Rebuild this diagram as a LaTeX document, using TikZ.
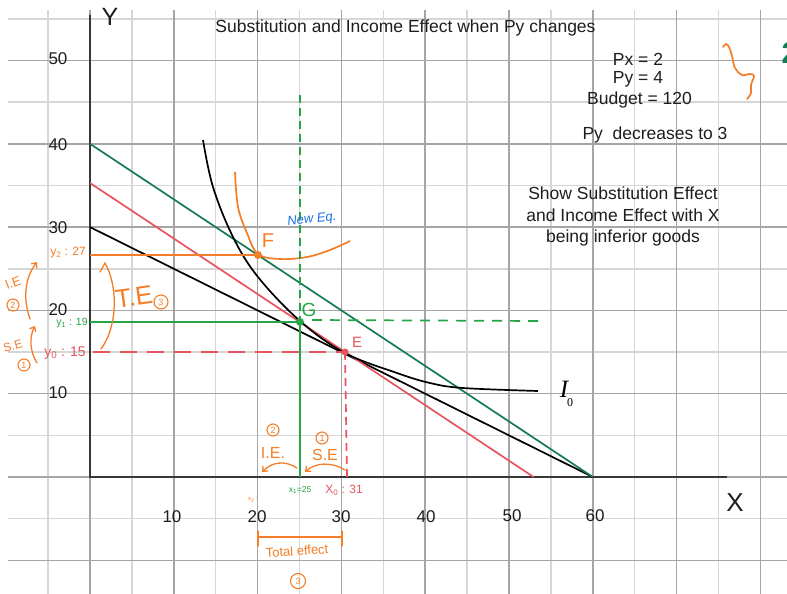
\documentclass[tikz,border=0pt]{standalone}
\usepackage{fontspec}
\setmainfont{Liberation Sans}
\newfontfamily\tnrfont{Liberation Serif}
\usetikzlibrary{arrows.meta}
\definecolor{gridmaj}{RGB}{165,165,165}
\definecolor{gridmin}{RGB}{214,214,214}
\definecolor{bgreen}{RGB}{22,122,84}
\definecolor{lgreen}{RGB}{38,165,70}
\definecolor{cred}{RGB}{232,84,94}
\definecolor{corange}{RGB}{245,125,40}
\definecolor{cblue}{RGB}{30,110,230}
\definecolor{axisc}{RGB}{55,55,55}
\definecolor{textc}{RGB}{30,30,30}
\begin{document}
\begin{tikzpicture}[x=1pt,y=-1pt,
  fs/.style={font=\fontsize{#1}{#1}\selectfont},
  gridminor/.style={draw=gridmin, line width=1.5pt},
  gridmajor/.style={draw=gridmaj, line width=1.5pt},
  axisline/.style={draw=axisc, line width=2.6pt},
  curveline/.style={line width=1.7pt},
  hand/.style={draw=corange, line width=1.3pt, line cap=round},
  harrow/.style={hand, -{Straight Barb[length=4pt,width=7pt]}},
  circnum/.style={draw=corange, circle, inner sep=0pt, minimum size=#1, text=corange, font=\fontsize{9}{9}\selectfont, line width=1.1pt},
  circnum/.default=12pt,
  txt/.style={fs=17.5, text=textc, inner sep=0pt},
  ticklbl/.style={fs=17, text=textc, inner sep=0pt},
]
\useasboundingbox (0,0) rectangle (787,594);
\fill[white] (0,0) rectangle (787,594);
\clip (0,0) rectangle (787,594);

% grid
\foreach \k in {-1,1,...,15} \draw[gridminor] ({90+41.9*\k},10) -- ({90+41.9*\k},594);
\foreach \j in {-1,1,...,11} \draw[gridminor] (8,{477-41.65*\j}) -- (787,{477-41.65*\j});
\foreach \k in {0,2,...,16} \draw[gridmajor] ({90+41.9*\k},10) -- ({90+41.9*\k},594);
\foreach \j in {-2,0,...,10} \draw[gridmajor] (8,{477-41.65*\j}) -- (787,{477-41.65*\j});

% axes
\coordinate (O) at (90,477);
\coordinate (ytop) at (90,15);
\coordinate (xend) at (727,477);
\draw[axisline] (ytop) -- (O) -- (xend);

% tick labels
\node[ticklbl] (t50) at (58,59) {50};
\node[ticklbl] (t40) at (58,145) {40};
\node[ticklbl] (t30) at (58,228) {30};
\node[ticklbl] (t20) at (58,310) {20};
\node[ticklbl] (t10) at (58,393) {10};
\node[ticklbl] (x10) at (172,517) {10};
\node[ticklbl] (x20) at (257,517) {20};
\node[ticklbl] (x30) at (341,517) {30};
\node[ticklbl] (x40) at (426,517) {40};
\node[ticklbl] (x50) at (512,516) {50};
\node[ticklbl] (x60) at (595,516) {60};
\node[fs=25, text=textc, inner sep=0pt] (ylab) at (110,17) {Y};
\node[fs=26, text=textc, inner sep=0pt] (xlab) at (735,503) {X};

% texts
\node[txt] (title) at (405.5,28) {Substitution and Income Effect when Py changes};
\node[txt] (px) at (638,59) {Px = 2};
\node[txt] (py) at (638,79) {Py = 4};
\node[txt] (bud) at (639.5,100) {Budget = 120};
\node[txt] (pyd) at (655,135) {Py\ \ decreases to 3};
\node[txt, align=center, font=\fontsize{17.5}{21.5}\selectfont] (show) at (623,216.5)
  {Show Substitution Effect\\and Income Effect with X\\being inferior goods};

% key points
\coordinate (F) at (258,255);
\coordinate (G) at (300,322);
\coordinate (E) at (345,352);

% budget lines
\coordinate (g0) at (90,143.8);
\coordinate (g1) at (592.8,477);
\coordinate (b0) at (90,227.1);
\coordinate (r0) at (90,183);
\coordinate (r1) at (533.6,477);
\draw[curveline, black] (b0) -- (g1);
\draw[curveline, cred] (r0) -- (r1);
\draw[curveline, bgreen] (g0) -- (g1);

% indifference curve I0
\draw[curveline, black] plot[smooth, tension=0.6] coordinates
  {(203,140) (213,187) (233,237) (258,277) (300,321) (345,353) (397,373) (430,383) (463,388) (538,391)};
\node[inner sep=0pt, font=\tnrfont\itshape\fontsize{25}{25}\selectfont] (ilab) at (564,389) {I};
\node[inner sep=0pt, font=\tnrfont\fontsize{12}{12}\selectfont] (isub) at (570,403) {0};

% orange indifference curve
\draw[curveline, corange] plot[smooth, tension=0.6] coordinates
  {(235,172) (238,207) (247,233) (258,254) (280,259) (307,257) (330,250) (350,241)};

% construction lines
\coordinate (yF) at (90,255);
\coordinate (yG) at (90,322);
\coordinate (yE) at (93,352);
\coordinate (xG) at (300,477);
\coordinate (xE) at (347,477);
\coordinate (gtop) at (300,95);
\coordinate (gright) at (538,321);
\draw[curveline, corange] (yF) -- (F);
\draw[curveline, lgreen] (yG) -- (G) -- (xG);
\draw[curveline, lgreen, dash pattern=on 8pt off 5pt] (gtop) -- (G);
\draw[curveline, lgreen, dash pattern=on 10pt off 8pt] (312,320) -- (gright);
\draw[curveline, cred, dash pattern=on 17pt off 10pt] (yE) -- (E);
\draw[curveline, cred, dash pattern=on 8pt off 5pt] (E) -- (xE);

% dots
\fill[corange] (F) circle (4pt);
\fill[lgreen] (G) circle (4pt);
\fill[cred] (E) circle (3.5pt);

% point labels
\node[fs=20, text=corange, inner sep=0pt] (Flab) at (268,241) {F};
\node[fs=19, text=lgreen, inner sep=0pt] (Glab) at (309,310) {G};
\node[fs=15, text=cred, inner sep=0pt] (Elab) at (357,342) {E};
\node[text=cblue, inner sep=0pt, rotate=6, font=\itshape\fontsize{13}{13}\selectfont] (neweq) at (312,220) {New Eq.};

% left annotations
\node[fs=12, text=corange, inner sep=0pt] (y2) at (68,253) {y\textsubscript{2} : 27};
\node[fs=10.5, text=lgreen, inner sep=0pt] (y1) at (72,323) {y\textsubscript{1} : 19};
\node[fs=14, text=cred, inner sep=0pt] (y0) at (65,353) {y\textsubscript{0} : 15};
\node[fs=13, text=corange, inner sep=0pt, rotate=20] (ieL) at (13,283) {I.E};
\node[circnum] (c2L) at (13,305) {2};
\node[fs=12, text=corange, inner sep=0pt, rotate=15] (seL) at (13,346) {S.E};
\node[circnum] (c1L) at (24,365) {1};
\coordinate (ieA0) at (30,319);
\coordinate (ieA1) at (37,262);
\draw[harrow] (ieA0) .. controls (22,297) and (26,276) .. (ieA1);
\coordinate (seA0) at (37,363);
\coordinate (seA1) at (35,326);
\draw[harrow] (seA0) .. controls (30,352) and (29,337) .. (seA1);
\coordinate (teA0) at (101,349);
\coordinate (teA1) at (105,263);
\draw[hand] (teA0) .. controls (118,326) and (118,286) .. (teA1) -- (100,272);
\node[fs=26, text=corange, inner sep=0pt, rotate=8] (teL) at (134,297) {T.E};
\node[circnum=14pt] (c3L) at (161,302) {3};

% bottom annotations
\node[circnum] (c2B) at (273,430) {2};
\node[fs=16, text=corange, inner sep=0pt] (ieB) at (273,453) {I.E.};
\coordinate (ieB0) at (297,468);
\coordinate (ieB1) at (262,472);
\draw[harrow] (ieB0) .. controls (285,460) and (272,462) .. (ieB1);
\node[circnum] (c1B) at (322,438) {1};
\node[fs=16, text=corange, inner sep=0pt] (seB) at (325,455) {S.E};
\coordinate (seB0) at (345,470);
\coordinate (seB1) at (305,472);
\draw[harrow] (seB0) .. controls (330,461) and (315,463) .. (seB1);
\node[fs=8.5, text=lgreen, inner sep=0pt] (x1) at (300,490) {x\textsubscript{1}=25};
\node[fs=12, text=cred, inner sep=0pt] (x0) at (344,490) {X\textsubscript{0} : 31};
\node[fs=6, text=corange, inner sep=0pt] (x2) at (253,500) {x\textsubscript{2} :};
\coordinate (teB0) at (258,537);
\coordinate (teB1) at (342,537);
\draw[hand] (teB0) -- (teB1);
\draw[hand] (258,531) -- (258,546);
\draw[hand] (342,531) -- (342,546);
\node[fs=13, text=corange, inner sep=0pt, rotate=4] (teB) at (297,551) {Total effect};
\node[circnum=15pt] (c3B) at (298,581) {3};

% top right squiggle and cut-off 2
\draw[curveline, corange, line cap=round] plot[smooth, tension=0.6] coordinates
  {(723,47) (726,44) (729,47) (732,56) (735,68) (742,75) (750,74) (754,76) (751,85) (751,93) (747,99)};
\node[text=bgreen, inner sep=0pt, font=\bfseries\fontsize{30}{30}\selectfont] (two) at (790,53) {2};
\end{tikzpicture}
\end{document}
